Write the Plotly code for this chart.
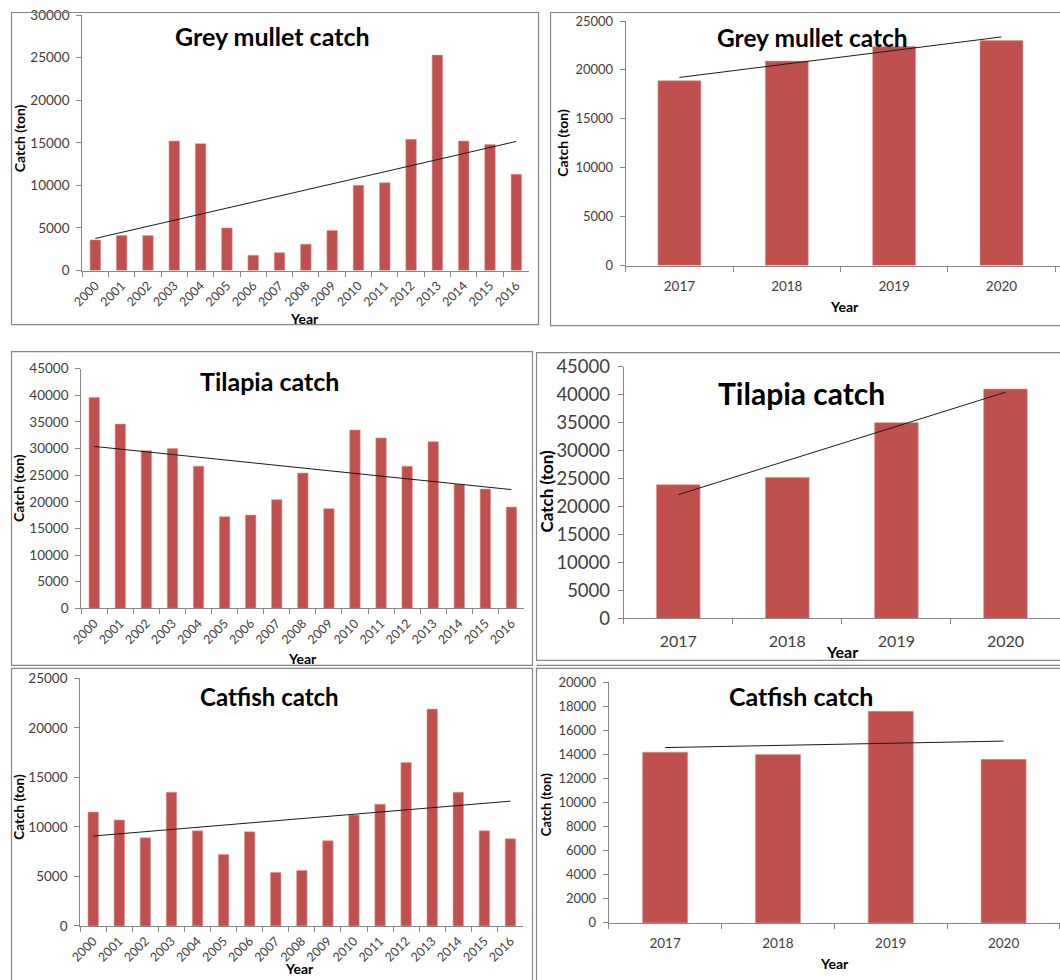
import numpy as np
import plotly.graph_objects as go

# ---------------- data ----------------
years_a = [str(y) for y in range(2000, 2017)]
years_b = ["2017", "2018", "2019", "2020"]

mullet_a = [3600, 4100, 4100, 15200, 14900, 5000, 1800, 2100, 3100, 4700,
            10000, 10300, 15400, 25300, 15200, 14800, 11300]
mullet_b = [18900, 20900, 22400, 23000]

tilapia_a = [39600, 34600, 29600, 30000, 26700, 17200, 17500, 20400, 25400,
             18700, 33500, 32000, 26700, 31300, 23300, 22400, 19000]
tilapia_b = [23900, 25200, 35000, 41000]

catfish_a = [11500, 10700, 8900, 13500, 9600, 7200, 9500, 5400, 5600, 8600,
             11200, 12300, 16500, 21900, 13500, 9600, 8800]
catfish_b = [14200, 14000, 17600, 13600]

titles = ["Grey mullet catch", "Grey mullet catch", "Tilapia catch",
          "Tilapia catch", "Catfish catch", "Catfish catch"]

# ---------------- layout helpers ----------------
# target picture coordinates -> paper fractions
OX, OY, SW, SH = 12.0, 12.0, 1046.0, 956.0
def px(x):
    return min(max((x - OX) / SW, 0.0005), 1.003)
def py(y):
    return max(min(1 - (y - OY) / SH, 0.9995), -0.02)

BAR = "#C0504D"
AX = "#868686"
TXT = "#404040"
FONT = "Lato"

panels = [
    dict(x=years_a, y=mullet_a, xd=(83, 529), xend=0, yd=(15, 270), ymax=30000, dt=5000,
         border=(7, 7, 538, 324), title=(273, 36, 25), ytitle=(20, 138, 14),
         xtitle=(305, 318, 14), tick=12.5, ytick=13.5, angle=-45, so=2),
    dict(x=years_b, y=mullet_b, xd=(625, 1060), xend=0.045, yd=(21, 265), ymax=25000, dt=5000,
         border=(550, 8, 1062, 325), title=(811, 37, 24.5), ytitle=(562, 143, 14),
         xtitle=(843, 306, 14), tick=13.5, ytick=13, angle=0, so=8),
    dict(x=years_a, y=tilapia_a, xd=(82, 524), xend=0, yd=(368, 607), ymax=45000, dt=5000,
         border=(7, 351, 532, 664), title=(270, 380, 25), ytitle=(20, 487, 14),
         xtitle=(303, 657, 14), tick=12.5, ytick=13.5, angle=-45, so=2),
    dict(x=years_b, y=tilapia_b, xd=(623, 1058), xend=0, yd=(366, 617), ymax=45000, dt=5000,
         border=(536, 352, 1062, 659), title=(800, 392, 30), ytitle=(545, 490, 17),
         xtitle=(841, 650, 16), tick=16, ytick=18.5, angle=0, so=9),
    dict(x=years_a, y=catfish_a, xd=(81, 523), xend=0, yd=(677, 924), ymax=25000, dt=5000,
         border=(7, 667, 532, 990), title=(270, 695, 24), ytitle=(20, 805, 13.5),
         xtitle=(300, 967, 14), tick=12.5, ytick=13.5, angle=-45, so=2),
    dict(x=years_b, y=catfish_b, xd=(608, 1058), xend=0, yd=(681, 921), ymax=20000, dt=2000,
         border=(536, 667, 1062, 990), title=(800, 695, 25), ytitle=(545, 803, 13),
         xtitle=(833, 962, 14), tick=13.5, ytick=13, angle=0, so=8),
]

fig = go.Figure()
shapes = []
annotations = []

for i, p in enumerate(panels):
    n = i + 1
    xa = "x" if n == 1 else f"x{n}"
    ya = "y" if n == 1 else f"y{n}"
    xs = p["x"]
    ys = p["y"]
    fig.add_trace(go.Bar(x=xs, y=ys, xaxis=xa, yaxis=ya, marker_color=BAR,
                         marker_line_color="#D79A99", marker_line_width=0.6,
                         width=0.4, showlegend=False, hoverinfo="x+y"))
    # linear trend line (Excel style least-squares fit)
    idx = np.arange(len(ys))
    k, b = np.polyfit(idx, ys, 1)
    fig.add_trace(go.Scatter(x=[xs[0], xs[-1]], y=[b, k * idx[-1] + b],
                             xaxis=xa, yaxis=ya, mode="lines",
                             line=dict(color="#1a1a1a", width=1),
                             showlegend=False, hoverinfo="skip"))
    xkey = "xaxis" if n == 1 else f"xaxis{n}"
    ykey = "yaxis" if n == 1 else f"yaxis{n}"
    fig.update_layout({
        xkey: dict(domain=[px(p["xd"][0]), min(px(p["xd"][1]), 1.0)], anchor=ya,
                   type="category", range=[-0.5, len(xs) - 0.5 + p["xend"]],
                   showline=True, linecolor=AX, linewidth=1,
                   ticks="outside", tickson="boundaries", ticklen=5,
                   tickcolor=AX, tickangle=p["angle"], showgrid=False,
                   ticklabelstandoff=p["so"],
                   tickfont=dict(family=FONT, size=p["tick"], color=TXT),
                   fixedrange=True),
        ykey: dict(domain=[py(p["yd"][1]), py(p["yd"][0])], anchor=xa,
                   range=[0, p["ymax"]], dtick=p["dt"], tick0=0,
                   tickformat="d", showline=True, linecolor=AX, linewidth=1,
                   ticks="outside", ticklen=5, tickcolor=AX, showgrid=False,
                   zeroline=False, ticklabelstandoff=4,
                   tickfont=dict(family=FONT, size=p["ytick"], color=TXT),
                   fixedrange=True),
    })
    x0, y0, x1, y1 = p["border"]
    shapes.append(dict(type="rect", xref="paper", yref="paper",
                       x0=px(x0), x1=px(x1), y0=py(y1), y1=py(y0),
                       line=dict(color=AX, width=1.2)))
    tx, ty, ts = p["title"]
    annotations.append(dict(text=f"<b>{titles[i]}</b>", x=px(tx), y=py(ty),
                            xref="paper", yref="paper", showarrow=False,
                            xanchor="center", yanchor="middle",
                            font=dict(family=FONT, size=ts, color="black")))
    yx, yy, ysz = p["ytitle"]
    annotations.append(dict(text="<b>Catch (ton)</b>", x=px(yx), y=py(yy),
                            xref="paper", yref="paper", showarrow=False,
                            textangle=-90, xanchor="center", yanchor="middle",
                            font=dict(family=FONT, size=ysz, color="black")))
    xx, xy, xsz = p["xtitle"]
    annotations.append(dict(text="<b>Year</b>", x=px(xx), y=py(xy),
                            xref="paper", yref="paper", showarrow=False,
                            xanchor="center", yanchor="middle",
                            font=dict(family=FONT, size=xsz, color="black")))

# extra separator line under the Tilapia (2017-2020) panel
shapes.append(dict(type="line", xref="paper", yref="paper",
                   x0=px(536), x1=px(1062), y0=py(664), y1=py(664),
                   line=dict(color=AX, width=1.2)))

fig.update_layout(autosize=True, margin=dict(l=0, r=0, t=0, b=0, pad=0),
                  paper_bgcolor="white", plot_bgcolor="white",
                  shapes=shapes, annotations=annotations,
                  showlegend=False)

post = ("document.documentElement.style.margin='0px';"
        "document.documentElement.style.overflow='hidden';"
        "document.body.style.margin='0px';"
        "document.body.style.padding='0px';"
        "document.body.style.overflow='hidden';"
        "var gd=document.getElementById('{plot_id}');"
        "gd.style.position='fixed';gd.style.left='0px';gd.style.top='0px';"
        "gd.style.width='100vw';gd.style.height='100vh';"
        "Plotly.Plots.resize(gd);")

fig.write_html("out.html", config={"displayModeBar": False, "responsive": True},
               default_width="100vw", default_height="100vh",
               post_script=post)
